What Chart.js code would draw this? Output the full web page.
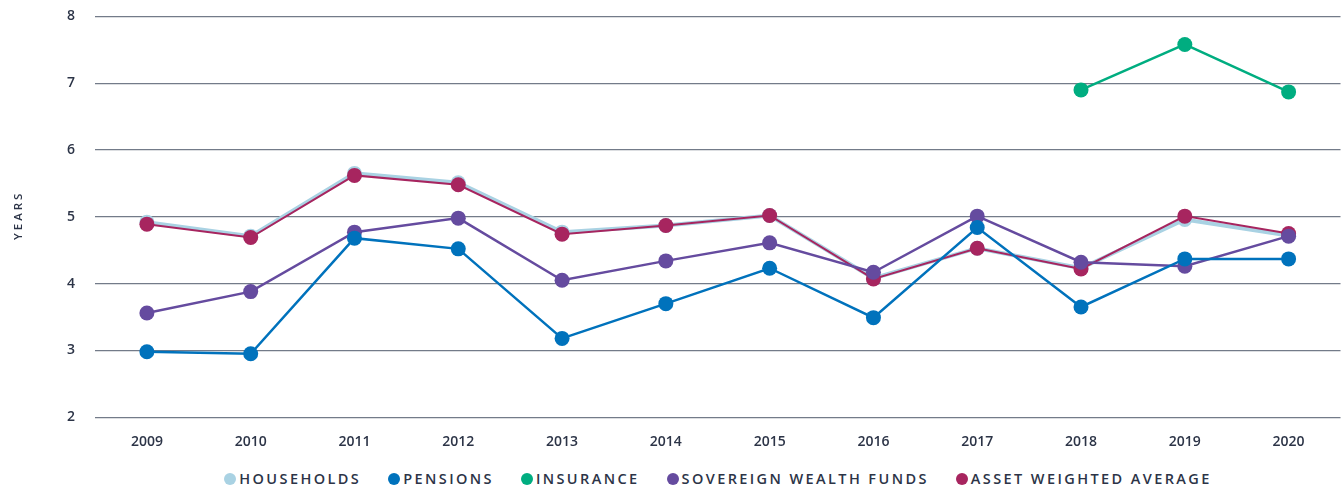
<!DOCTYPE html>
<html>
<head>
<meta charset="utf-8">
<script src="https://cdn.jsdelivr.net/npm/chart.js@4.4.1/dist/chart.umd.min.js"></script>
<style>
  html, body { margin: 0; padding: 0; background: #fff; overflow: hidden; }
  #wrap { position: relative; width: 1344px; height: 489px; overflow: hidden; }
  #box { position: absolute; left: 0; top: -12px; width: 1348px; height: 470px; }
  #legend { position: absolute; left: 96px; top: 469px; width: 1244px; text-align: center;
    font-family: "Open Sans", sans-serif; font-size: 14.5px; font-weight: 600; letter-spacing: 2.4px; color: #2c3447; white-space: nowrap; }
  #legend span.item { display: inline-block; margin: 0 13.5px; }
  #legend span.dot { display: inline-block; width: 12px; height: 12px; border-radius: 50%; vertical-align: -1px; margin-right: 3px; }
</style>
</head>
<body>
<div id="wrap">
  <div id="box"><canvas id="chart"></canvas></div>
  <div id="legend"></div>
</div>
<script>
// categories
const years = ['2009', '2010', '2011', '2012', '2013', '2014', '2015', '2016', '2017', '2018', '2019', '2020'];

// series values (years)
const households = [4.92, 4.71, 5.65, 5.51, 4.77, 4.87, 5.02, 4.08, 4.53, 4.23, 4.96, 4.72];
const pensions = [2.98, 2.95, 4.68, 4.52, 3.18, 3.70, 4.23, 3.49, 4.84, 3.65, 4.37, 4.37];
const insurance = [null, null, null, null, null, null, null, null, null, 6.90, 7.58, 6.87];
const sovereign = [3.56, 3.88, 4.77, 4.98, 4.05, 4.34, 4.61, 4.17, 5.01, 4.32, 4.26, 4.71];
const assetWeighted = [4.89, 4.69, 5.62, 5.48, 4.74, 4.87, 5.02, 4.07, 4.53, 4.22, 5.01, 4.75];

const seriesNames = ['HOUSEHOLDS', 'PENSIONS', 'INSURANCE', 'SOVEREIGN WEALTH FUNDS', 'ASSET WEIGHTED AVERAGE'];
const seriesColors = ['#a9d2e3', '#0072bc', '#00ad80', '#654b9f', '#a7255f'];

const textColor = '#2c3447';
const gridColor = '#737b89';
const fontFamily = '"Open Sans", sans-serif';

const makeSet = (i, data, order, width) => ({
    label: seriesNames[i],
    data: data,
    borderColor: seriesColors[i],
    backgroundColor: seriesColors[i],
    pointBackgroundColor: seriesColors[i],
    pointBorderColor: seriesColors[i],
    pointBorderWidth: 0,
    pointRadius: 7.5,
    pointHoverRadius: 7.5,
    borderWidth: width,
    tension: 0,
    spanGaps: false,
    order: order,
});

// order: higher numbers are drawn underneath
const datasets = [
    makeSet(0, households, 5, 4),
    makeSet(1, pensions, 2, 2.5),
    makeSet(2, insurance, 1, 2.5),
    makeSet(3, sovereign, 3, 2.5),
    makeSet(4, assetWeighted, 4, 2),
];

const ctx = document.getElementById('chart').getContext('2d');

new Chart(ctx, {
    type: 'line',
    data: { labels: years, datasets: datasets },
    options: {
        responsive: true,
        maintainAspectRatio: false,
        animation: false,
        layout: { padding: { top: 6, right: 0, left: 0, bottom: 0 } },
        plugins: {
            legend: { display: false },
            tooltip: { enabled: false },
        },
        scales: {
            x: {
                offset: true,
                grid: { display: false },
                border: { display: false },
                ticks: {
                    color: textColor,
                    padding: 8,
                    font: { family: fontFamily, size: 14, weight: '600' },
                },
            },
            y: {
                min: 2,
                max: 8,
                afterFit: (scale) => { scale.width = 95; },
                grid: { color: gridColor, lineWidth: 1.3, drawTicks: false },
                border: { display: false },
                ticks: {
                    stepSize: 1,
                    color: textColor,
                    padding: 20,
                    font: { family: fontFamily, size: 14, weight: '600' },
                },
                title: {
                    display: true,
                    text: 'Y E A R S',
                    color: textColor,
                    padding: { top: 12, bottom: 0 },
                    font: { family: fontFamily, size: 11.5, weight: '600' },
                },
            },
        },
    },
});

// HTML legend in dataset order
const legendEl = document.getElementById('legend');
seriesNames.forEach((name, i) => {
    const item = document.createElement('span');
    item.className = 'item';
    item.innerHTML = '<span class="dot" style="background:' + seriesColors[i] + '"></span>' + name;
    legendEl.appendChild(item);
});
</script>
</body>
</html>
